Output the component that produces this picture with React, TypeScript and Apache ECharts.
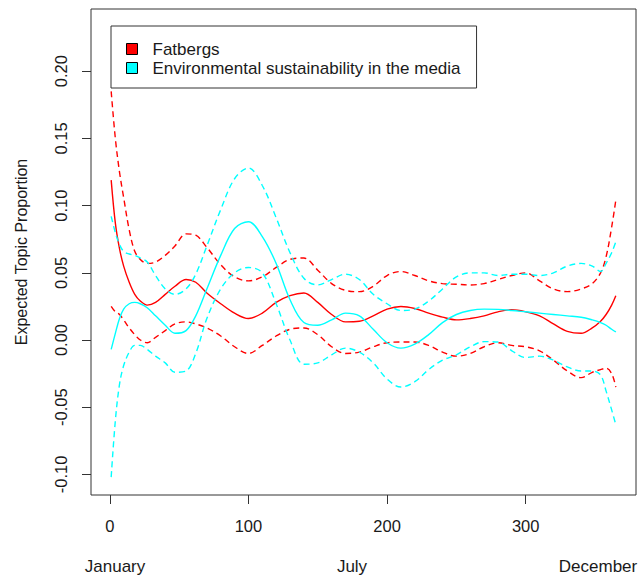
import React, { useEffect, useRef } from "react";
import * as echarts from "echarts";

// Day of year at which each curve was read
const days = [1, 4, 7, 10, 14, 18, 22, 27, 33, 40,
  47, 55, 62, 70, 80, 90, 100, 110, 120, 130,
  140, 150, 160, 170, 180, 190, 200, 210, 220, 230, 240,
  250, 260, 270, 280, 290, 300, 310, 320, 330, 340,
  348, 354, 358, 362, 365];

// Fatbergs: expected proportion and 95% band
const fatMean = [0.119, 0.087, 0.068, 0.055, 0.043, 0.034, 0.029, 0.026, 0.028, 0.034,
  0.040, 0.045, 0.043, 0.035, 0.027, 0.020, 0.016, 0.020, 0.028, 0.033,
  0.035, 0.028, 0.019, 0.0135, 0.014, 0.018, 0.023, 0.025, 0.0235, 0.020, 0.017,
  0.015, 0.016, 0.018, 0.021, 0.0225, 0.021, 0.018, 0.012, 0.0065, 0.005,
  0.009, 0.014, 0.019, 0.026, 0.033];
const fatUpper = [0.185, 0.150, 0.125, 0.106, 0.082, 0.066, 0.060, 0.057, 0.058, 0.063,
  0.070, 0.079, 0.078, 0.069, 0.056, 0.047, 0.044, 0.047, 0.054, 0.060,
  0.061, 0.052, 0.042, 0.037, 0.036, 0.040, 0.048, 0.051, 0.048, 0.044, 0.042,
  0.0415, 0.041, 0.042, 0.045, 0.048, 0.050, 0.044, 0.038, 0.036, 0.038,
  0.042, 0.050, 0.062, 0.084, 0.104];
const fatLower = [0.025, 0.021, 0.019, 0.015, 0.009, 0.004, 0.000, -0.002, 0.002, 0.007,
  0.012, 0.0135, 0.012, 0.009, 0.003, -0.005, -0.010, -0.004, 0.003, 0.008,
  0.009, 0.004, -0.005, -0.010, -0.009, -0.005, -0.002, -0.0015, -0.0015, -0.004, -0.009,
  -0.012, -0.010, -0.005, -0.002, -0.004, -0.005, -0.008, -0.015, -0.023, -0.028,
  -0.024, -0.022, -0.021, -0.025, -0.035];

// Environmental sustainability in the media: expected proportion and 95% band
const envMean = [-0.007, 0.005, 0.016, 0.023, 0.027, 0.028, 0.027, 0.024, 0.018, 0.011,
  0.005, 0.007, 0.018, 0.038, 0.063, 0.083, 0.088, 0.077, 0.057, 0.030,
  0.013, 0.011, 0.015, 0.020, 0.018, 0.008, -0.002, -0.006, -0.003, 0.004, 0.013,
  0.019, 0.022, 0.023, 0.0228, 0.022, 0.021, 0.020, 0.019, 0.018, 0.017,
  0.015, 0.013, 0.011, 0.008, 0.006];
const envUpper = [0.092, 0.080, 0.071, 0.066, 0.064, 0.063, 0.061, 0.058, 0.048, 0.038,
  0.034, 0.038, 0.049, 0.070, 0.097, 0.120, 0.128, 0.115, 0.091, 0.065,
  0.046, 0.041, 0.045, 0.049, 0.045, 0.034, 0.027, 0.022, 0.023, 0.029, 0.038,
  0.047, 0.050, 0.050, 0.048, 0.049, 0.049, 0.048, 0.050, 0.055, 0.057,
  0.055, 0.051, 0.057, 0.065, 0.073];
const envLower = [-0.102, -0.060, -0.033, -0.019, -0.009, -0.004, -0.004, -0.007, -0.012, -0.017,
  -0.024, -0.023, -0.010, 0.016, 0.038, 0.050, 0.054, 0.050, 0.027, 0.000,
  -0.018, -0.017, -0.011, -0.006, -0.009, -0.017, -0.029, -0.035, -0.031, -0.022, -0.015,
  -0.011, -0.005, -0.0012, -0.0015, -0.008, -0.013, -0.012, -0.015, -0.020, -0.023,
  -0.023, -0.026, -0.038, -0.052, -0.063];

const xTicks = [0, 100, 200, 300];
const yTicks = [-0.1, -0.05, 0, 0.05, 0.1, 0.15, 0.2];
const monthLabels = ["January", "July", "December"];

const FONT = "'Liberation Sans', Arial, sans-serif";
const RED = "#FF0000";
const CYAN = "#00FFFF";
const TXT = "#1a1a1a";

export default function App() {
  const ref = useRef<HTMLDivElement>(null);

  useEffect(() => {
    if (!ref.current) return;
    const chart = echarts.init(ref.current, null, { renderer: "svg" });
    const pts = (vals: number[]) => days.map((d, i) => [d, vals[i]]);
    const line = (name: string, vals: number[], color: string, dashed: boolean) => ({
      name,
      type: "line",
      data: pts(vals),
      showSymbol: false,
      symbol: "none",
      smooth: 0.35,
      silent: true,
      itemStyle: { color },
      lineStyle: { color, width: 1.4, type: dashed ? [6, 4] : "solid" },
    });

    const monthX = [115, 352, 598];

    chart.setOption({
      animation: false,
      backgroundColor: "#ffffff",
      grid: {
        left: 91,
        top: 9,
        width: 545,
        height: 486,
        show: true,
        borderColor: "#333",
        borderWidth: 1,
        backgroundColor: "transparent",
      },
      legend: {
        data: ["Fatbergs", "Environmental sustainability in the media"],
        orient: "vertical",
        left: 111,
        top: 26,
        selectedMode: false,
        icon: "rect",
        itemWidth: 11,
        itemHeight: 11,
        itemGap: 2,
        padding: [14.5, 16, 11.5, 15],
        borderColor: "#333",
        borderWidth: 1,
        backgroundColor: "#fff",
        itemStyle: { borderColor: "#000", borderWidth: 1 },
        textStyle: {
          fontSize: 17,
          fontFamily: FONT,
          color: TXT,
          lineHeight: 17,
          padding: [0, 0, 0, 10],
        },
      },
      xAxis: {
        type: "value",
        position: "bottom",
        min: -13.56,
        max: 379.56,
        axisLine: { show: false, onZero: false },
        splitLine: { show: false },
        axisTick: {
          show: true,
          length: 9,
          customValues: xTicks,
          lineStyle: { color: "#333", width: 1 },
        },
        axisLabel: {
          customValues: xTicks,
          fontSize: 16.5,
          fontFamily: FONT,
          color: TXT,
          margin: 22,
        },
      },
      yAxis: {
        type: "value",
        position: "left",
        min: -0.1153,
        max: 0.2463,
        name: "Expected Topic Proportion",
        nameLocation: "middle",
        nameRotate: 90,
        nameGap: 62,
        nameTextStyle: { fontSize: 16, fontFamily: FONT, color: TXT },
        axisLine: { show: false, onZero: false },
        splitLine: { show: false },
        axisTick: {
          show: true,
          length: 9,
          customValues: yTicks,
          lineStyle: { color: "#333", width: 1 },
        },
        axisLabel: {
          customValues: yTicks,
          rotate: 90,
          fontSize: 16.5,
          fontFamily: FONT,
          color: TXT,
          margin: 22,
          formatter: (v: number) => v.toFixed(2),
        },
      },
      graphic: monthLabels.map((t, i) => ({
        type: "text",
        x: monthX[i],
        y: 566,
        silent: true,
        style: {
          text: t,
          fill: TXT,
          font: `17px ${FONT}`,
          align: "center",
          verticalAlign: "middle",
        },
      })),
      series: [
        line("Fatbergs", fatMean, RED, false),
        line("Fatbergs upper", fatUpper, RED, true),
        line("Fatbergs lower", fatLower, RED, true),
        line("Environmental sustainability in the media", envMean, CYAN, false),
        line("Environmental upper", envUpper, CYAN, true),
        line("Environmental lower", envLower, CYAN, true),
      ],
    });

    return () => chart.dispose();
  }, []);

  return (
    <div
      ref={ref}
      style={{ position: "fixed", left: 0, top: 0, width: 641, height: 579, background: "#fff" }}
    />
  );
}
